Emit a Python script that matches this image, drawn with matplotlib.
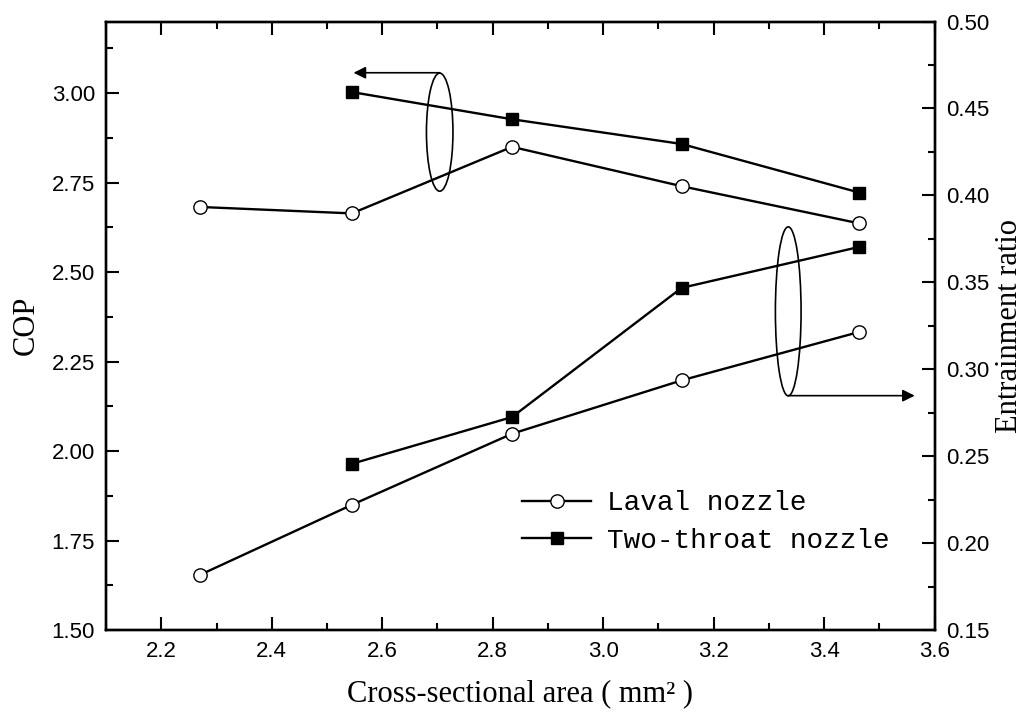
import numpy as np
import matplotlib
matplotlib.use("Agg")
import matplotlib.pyplot as plt
from matplotlib.patches import Ellipse
from matplotlib.ticker import MultipleLocator, FormatStrFormatter

area = [2.270, 2.545, 2.835, 3.142, 3.464]

cop_laval = [2.682, 2.664, 2.850, 2.740, 2.636]
cop_two = [None, 3.003, 2.927, 2.858, 2.722]

er_laval = [0.1817, 0.2220, 0.2629, 0.2936, 0.3215]
er_two = [None, 0.2456, 0.2725, 0.3468, 0.3704]

labels = ["Laval nozzle", "Two-throat nozzle"]

plt.rcParams['font.family'] = ['Liberation Sans', 'DejaVu Sans']

fig = plt.figure(figsize=(10.35, 7.19), dpi=100)
ax = fig.add_axes([0.1025, 0.1238, 0.8005, 0.8462])
ax2 = ax.twinx()

def clean(x, y):
    pts = [(a, b) for a, b in zip(x, y) if b is not None]
    return [p[0] for p in pts], [p[1] for p in pts]

lw = 1.7
x, y = clean(area, cop_laval)
l1, = ax.plot(x, y, '-o', color='black', lw=lw, ms=9.6, mfc='white', mec='black', mew=1.0)
x, y = clean(area, cop_two)
l2, = ax.plot(x, y, '-s', color='black', lw=lw, ms=9.2, mfc='black', mec='black')
x, y = clean(area, er_laval)
ax2.plot(x, y, '-o', color='black', lw=lw, ms=9.6, mfc='white', mec='black', mew=1.0)
x, y = clean(area, er_two)
ax2.plot(x, y, '-s', color='black', lw=lw, ms=9.2, mfc='black', mec='black')

ax.set_xlim(2.1, 3.6)
ax.set_ylim(1.5, 3.2)
ax2.set_ylim(0.15, 0.50)

ax.xaxis.set_major_locator(MultipleLocator(0.2))
ax.xaxis.set_minor_locator(MultipleLocator(0.1))
ax.yaxis.set_major_locator(MultipleLocator(0.25))
ax.yaxis.set_minor_locator(MultipleLocator(0.125))
ax2.yaxis.set_major_locator(MultipleLocator(0.05))
ax2.yaxis.set_minor_locator(MultipleLocator(0.025))
ax.yaxis.set_major_formatter(FormatStrFormatter('%.2f'))
ax2.yaxis.set_major_formatter(FormatStrFormatter('%.2f'))
ax.xaxis.set_major_formatter(FormatStrFormatter('%.1f'))

ax.tick_params(which='major', direction='in', length=9.5, width=1.5, labelsize=16, top=True, pad=8)
ax.tick_params(which='minor', direction='in', length=5, width=1.5, top=True)
ax.tick_params(axis='y', which='both', right=False)
ax2.tick_params(which='major', direction='in', length=9.5, width=1.5, labelsize=16, pad=8)
ax2.tick_params(which='minor', direction='in', length=5, width=1.5)
for a in (ax, ax2):
    for s in a.spines.values():
        s.set_linewidth(1.7)

ax.set_xlabel("Cross-sectional area ( mm\u00b2 )", family='Liberation Serif', fontsize=22, labelpad=12)
ax.set_ylabel("COP", family='Liberation Serif', fontsize=22, labelpad=8)
ax2.set_ylabel("Entrainment ratio", family='Liberation Serif', fontsize=22, labelpad=4)

# ellipse + arrow marking the COP curves
ax.add_patch(Ellipse((2.704, 2.891), 0.048, 0.33, fill=False, ec='black', lw=1.2))
ax.annotate("", xy=(2.548, 3.057), xytext=(2.704, 3.057),
            arrowprops=dict(arrowstyle='-|>', color='black', lw=1.2, mutation_scale=18, shrinkA=0, shrinkB=0))

# ellipse + arrow marking the entrainment ratio curves
ax2.add_patch(Ellipse((3.335, 0.3333), 0.0465, 0.0972, fill=False, ec='black', lw=1.2))
ax2.annotate("", xy=(3.564, 0.2848), xytext=(3.335, 0.2848),
             arrowprops=dict(arrowstyle='-|>', color='black', lw=1.2, mutation_scale=18, shrinkA=0, shrinkB=0))

leg = ax.legend([l1, l2], labels, loc='center left', bbox_to_anchor=(0.502, 0.1775),
                frameon=False, borderpad=0, borderaxespad=0, handlelength=2.5,
                handletextpad=0.55, labelspacing=0.4,
                prop={'family': 'Liberation Mono', 'size': 20})

fig.savefig("out.png", dpi=100)
